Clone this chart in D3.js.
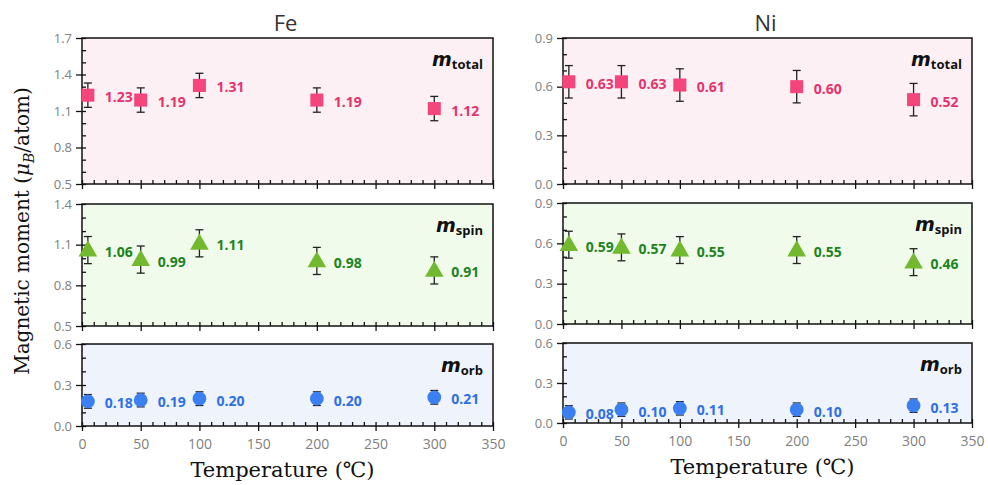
<!DOCTYPE html>
<html>
<head>
<meta charset="utf-8">
<script src="https://cdn.jsdelivr.net/npm/d3@7"></script>
<style>
  body { margin: 0; background: #fff; }
  svg { display: block; }
</style>
</head>
<body>
<script>
const temps = [5, 50, 100, 200, 300];

const feTotal = [1.23, 1.19, 1.31, 1.19, 1.12];
const feSpin = [1.06, 0.99, 1.11, 0.98, 0.91];
const feOrb = [0.18, 0.19, 0.20, 0.20, 0.21];

const niTotal = [0.63, 0.63, 0.61, 0.60, 0.52];
const niSpin = [0.59, 0.57, 0.55, 0.55, 0.46];
const niOrb = [0.08, 0.10, 0.11, 0.10, 0.13];

const errTotal = [0.1, 0.1, 0.1, 0.1, 0.1];
const errSpin = [0.1, 0.1, 0.1, 0.1, 0.1];
const errOrb = [0.05, 0.05, 0.05, 0.05, 0.05];

const xTicks = [0, 50, 100, 150, 200, 250, 300, 350];

const width = 988, height = 485;

const svg = d3.select("body").append("svg")
  .attr("width", width)
  .attr("height", height)
  .attr("xmlns", "http://www.w3.org/2000/svg");

const styles = {
  total: { bg: "#fdf0f4", mark: "#f4457c", label: "#e6336d", shape: d3.symbolSquare, size: 170, sub: "total" },
  spin: { bg: "#f1fbec", mark: "#72b92f", label: "#1d841d", shape: d3.symbolTriangle, size: 150, sub: "spin" },
  orb: { bg: "#eef3fc", mark: "#3b7ff0", label: "#2f6fe6", shape: d3.symbolCircle, size: 150, sub: "orb" }
};

// one column per element, three stacked panels
const columns = [
  {
    title: "Fe", x0: 82, x1: 493,
    rows: [
      { kind: "total", y0: 38, y1: 184, dom: [0.5, 1.7], ticks: [0.5, 0.8, 1.1, 1.4, 1.7], vals: feTotal, err: errTotal },
      { kind: "spin", y0: 204, y1: 326, dom: [0.5, 1.4], ticks: [0.5, 0.8, 1.1, 1.4], vals: feSpin, err: errSpin },
      { kind: "orb", y0: 344, y1: 426, dom: [0, 0.6], ticks: [0, 0.3, 0.6], vals: feOrb, err: errOrb }
    ]
  },
  {
    title: "Ni", x0: 563, x1: 972,
    rows: [
      { kind: "total", y0: 38, y1: 184, dom: [0, 0.9], ticks: [0, 0.3, 0.6, 0.9], vals: niTotal, err: errTotal },
      { kind: "spin", y0: 203, y1: 324, dom: [0, 0.9], ticks: [0, 0.3, 0.6, 0.9], vals: niSpin, err: errSpin },
      { kind: "orb", y0: 343, y1: 423, dom: [0, 0.6], ticks: [0, 0.3, 0.6], vals: niOrb, err: errOrb }
    ]
  }
];

const tickFont = "'Open Sans', sans-serif";
const serif = "'DejaVu Serif', serif";

for (const col of columns) {
  const x = d3.scaleLinear().domain([0, 350]).range([col.x0, col.x1]);

  svg.append("text")
    .attr("x", (col.x0 + col.x1) / 2 - 2)
    .attr("y", 31)
    .attr("text-anchor", "middle")
    .attr("font-family", tickFont)
    .attr("font-size", 22)
    .attr("fill", "#333")
    .text(col.title);

  col.rows.forEach((r, ri) => {
    const st = styles[r.kind];
    const y = d3.scaleLinear().domain(r.dom).range([r.y1, r.y0]);
    const g = svg.append("g");

    g.append("rect")
      .attr("x", col.x0).attr("y", r.y0)
      .attr("width", col.x1 - col.x0).attr("height", r.y1 - r.y0)
      .attr("fill", st.bg);

    // minor ticks inside
    const yMinor = d3.range(Math.round(r.dom[0] * 10), Math.round(r.dom[1] * 10) + 1).map(d => d / 10);
    g.append("g")
      .attr("transform", `translate(${col.x0},0)`)
      .call(d3.axisLeft(y).tickValues(yMinor).tickSize(-4).tickFormat(""))
      .call(a => a.select(".domain").remove());
    g.append("g")
      .attr("transform", `translate(0,${r.y1})`)
      .call(d3.axisBottom(x).tickValues(d3.range(0, 351, 10)).tickSize(-4).tickFormat(""))
      .call(a => a.select(".domain").remove());

    // major ticks outside
    const yAx = g.append("g")
      .attr("transform", `translate(${col.x0},0)`)
      .call(d3.axisLeft(y).tickValues(r.ticks).tickSize(6).tickPadding(4).tickFormat(d3.format(".1f")));
    yAx.select(".domain").remove();
    yAx.selectAll("text")
      .attr("font-family", tickFont).attr("font-size", 13).attr("fill", "#808080");

    const xAx = g.append("g")
      .attr("transform", `translate(0,${r.y1})`)
      .call(d3.axisBottom(x).tickValues(xTicks).tickSize(5).tickPadding(8).tickFormat(d3.format("d")));
    xAx.select(".domain").remove();
    xAx.selectAll("text")
      .attr("font-family", tickFont).attr("font-size", 14).attr("fill", "#808080");
    if (ri < 2) xAx.selectAll("text").remove();

    svg.selectAll(".tick line").attr("stroke", "#111").attr("stroke-width", 1.3);

    g.append("rect")
      .attr("x", col.x0).attr("y", r.y0)
      .attr("width", col.x1 - col.x0).attr("height", r.y1 - r.y0)
      .attr("fill", "none").attr("stroke", "#111").attr("stroke-width", 1.5);

    // component label
    const lab = g.append("text")
      .attr("x", col.x1 - 10)
      .attr("y", r.y0 + 28)
      .attr("text-anchor", "end")
      .attr("fill", "#111");
    lab.append("tspan")
      .attr("font-family", "'DejaVu Sans', sans-serif")
      .attr("font-weight", "bold").attr("font-style", "italic")
      .attr("font-size", 19)
      .text("m");
    lab.append("tspan")
      .attr("font-family", tickFont)
      .attr("font-weight", "bold").attr("font-size", 13)
      .attr("dy", 3)
      .text(st.sub);

    const pts = temps.map((t, i) => ({ t, v: r.vals[i], e: r.err[i] }));

    // error bars
    const eb = g.append("g").attr("stroke", "#222").attr("stroke-width", 1.3);
    eb.selectAll("line.v").data(pts).join("line")
      .attr("x1", d => x(d.t)).attr("x2", d => x(d.t))
      .attr("y1", d => y(d.v - d.e)).attr("y2", d => y(d.v + d.e));
    eb.selectAll("line.top").data(pts).join("line").attr("class", "top")
      .attr("x1", d => x(d.t) - 4).attr("x2", d => x(d.t) + 4)
      .attr("y1", d => y(d.v + d.e)).attr("y2", d => y(d.v + d.e));
    eb.selectAll("line.bot").data(pts).join("line").attr("class", "bot")
      .attr("x1", d => x(d.t) - 4).attr("x2", d => x(d.t) + 4)
      .attr("y1", d => y(d.v - d.e)).attr("y2", d => y(d.v - d.e));

    g.selectAll("path.mark").data(pts).join("path")
      .attr("class", "mark")
      .attr("transform", d => `translate(${x(d.t)},${y(d.v) + (r.kind === "spin" ? 1 : 0)})`)
      .attr("d", d3.symbol(st.shape, st.size))
      .attr("fill", st.mark);

    g.selectAll("text.val").data(pts).join("text")
      .attr("class", "val")
      .attr("x", d => x(d.t) + 17)
      .attr("y", d => y(d.v) + 7)
      .attr("font-family", tickFont)
      .attr("font-weight", "bold")
      .attr("font-size", 14)
      .attr("fill", st.label)
      .text(d => d3.format(".2f")(d.v));
  });

  const last = col.rows[2];
  svg.append("text")
    .attr("x", (col.x0 + col.x1) / 2 - 5)
    .attr("y", last.y1 + 51)
    .attr("text-anchor", "middle")
    .attr("font-family", serif)
    .attr("font-size", 21)
    .attr("fill", "#111")
    .text("Temperature (℃)");
}

// shared y label
const yl = svg.append("text")
  .attr("transform", "translate(29,231) rotate(-90)")
  .attr("text-anchor", "middle")
  .attr("font-family", serif)
  .attr("font-size", 20)
  .attr("fill", "#111");
yl.append("tspan").text("Magnetic moment (");
yl.append("tspan").attr("font-style", "italic").text("μ");
yl.append("tspan").attr("font-style", "italic").attr("font-size", 14).attr("dy", 5).text("B");
yl.append("tspan").attr("dy", -5).text("/atom)");
</script>
</body>
</html>
